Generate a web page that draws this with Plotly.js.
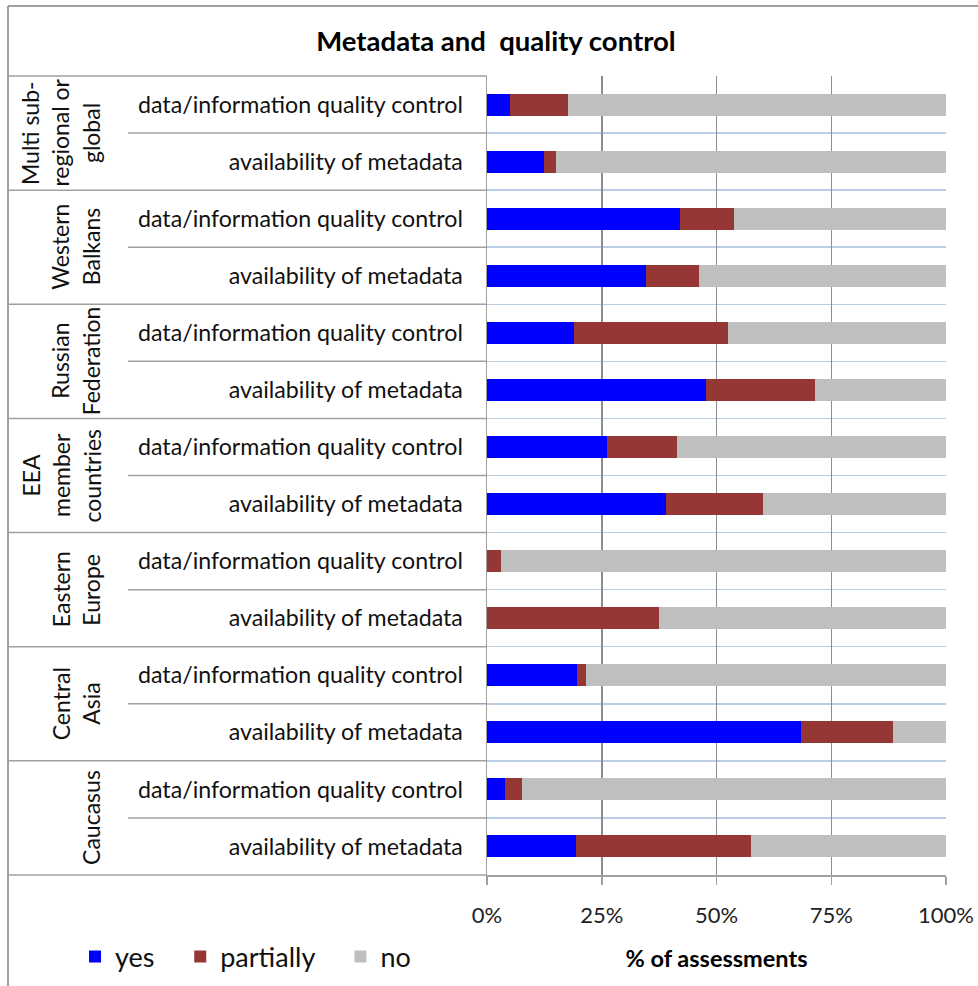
<!DOCTYPE html>
<html>
<head>
<meta charset="utf-8">
<script src="https://cdn.plot.ly/plotly-3.0.1.min.js"></script>
<style>html,body{margin:0;padding:0;background:#fff}#chart{width:978px;height:986px}</style>
</head>
<body>
<div id="chart"></div>
<script>
// ---- data ----
const groups = [
  ["Multi sub-", "regional or", "global"],
  ["Western", "Balkans"],
  ["Russian", "Federation"],
  ["EEA", "member", "countries"],
  ["Eastern", "Europe"],
  ["Central", "Asia"],
  ["Caucasus"]
];
const items = [
  "data/information quality control", "availability of metadata",
  "data/information quality control", "availability of metadata",
  "data/information quality control", "availability of metadata",
  "data/information quality control", "availability of metadata",
  "data/information quality control", "availability of metadata",
  "data/information quality control", "availability of metadata",
  "data/information quality control", "availability of metadata"
];
const seriesNames = ["yes", "partially", "no"];
const yes       = [5.0, 12.4, 42.1, 34.6, 18.9, 47.7, 26.1, 39.1, 0.0, 0.0, 19.5, 68.5, 3.9, 19.3];
const partially = [12.6, 2.7, 11.7, 11.6, 33.5, 23.8, 15.3, 21.1, 3.1, 37.4, 2.1, 19.9, 3.8, 38.3];
const no        = [82.4, 84.9, 46.2, 53.8, 47.6, 28.5, 58.6, 39.8, 96.9, 62.6, 78.4, 11.6, 92.3, 42.4];
const xTicks = [0, 25, 50, 75, 100];
const xTickText = ["0%", "25%", "50%", "75%", "100%"];

// ---- geometry helpers (layout only) ----
const W = 978, H = 986, L = 487, R = 32, T = 76, B = 111;
const PW = W - L - R, PH = H - T - B;
const px2x = p => (p - L) / PW;
const py2y = p => (H - B - p) / PH;
const n = items.length;
const pos = items.map((_, i) => i);

const font = "Lato, 'Open Sans', sans-serif";
const lineCol = "#a0a0a0";
const pad = "\u00a0\u00a0\u00a0";

const traces = [
  {name: seriesNames[0], x: yes, color: "#0000ff"},
  {name: seriesNames[1], x: partially, color: "#953735"},
  {name: seriesNames[2], x: no, color: "#bfbfbf"}
].map(s => ({
  type: "bar", orientation: "h", name: s.name + pad, x: s.x, y: pos,
  marker: {color: s.color, line: {width: 0}}, hoverinfo: "x+name"
}));

const shapes = [];
// outer frame
shapes.push({type: "line", xref: "paper", yref: "paper", x0: px2x(8), x1: px2x(978), y0: py2y(6), y1: py2y(6), line: {color: lineCol, width: 2}});
shapes.push({type: "line", xref: "paper", yref: "paper", x0: px2x(8), x1: px2x(8), y0: py2y(6), y1: py2y(986), line: {color: lineCol, width: 2}});
// table lines
for (let k = 0; k <= n; k++) {
  const yP = 1 - k / n;
  const x0 = (k % 2 === 0) ? px2x(8) : px2x(128);
  shapes.push({type: "line", xref: "paper", yref: "paper", x0: x0, x1: 0, y0: yP, y1: yP, line: {color: lineCol, width: 1.5}});
}

const annotations = [];
groups.forEach((lines, g) => {
  const m = lines.length;
  lines.forEach((t, j) => {
    const cx = 91 - (m - 1 - j) * 30.5;
    annotations.push({
      xref: "paper", yref: "y", x: px2x(cx), y: 2 * g + 0.5,
      text: t, textangle: -90, showarrow: false,
      xanchor: "center", yanchor: "middle",
      font: {family: font, size: 23, color: "#111"}
    });
  });
});

const layout = {
  width: W, height: H, autosize: false,
  margin: {l: L, r: R, t: T, b: B, pad: 0, autoexpand: false},
  paper_bgcolor: "#fff", plot_bgcolor: "#fff",
  barmode: "stack", bargap: 0.615,
  title: {text: "<b>Metadata and\u00a0 quality control</b>", x: 496 / W, xanchor: "center", y: 1 - 41 / H, yanchor: "middle",
          font: {family: font, size: 27.5, color: "#000"}},
  xaxis: {
    range: [0, 100], tickmode: "array", tickvals: xTicks, ticktext: xTickText,
    showgrid: true, gridcolor: "#8c8c8c", gridwidth: 1.5, zeroline: false,
    showline: true, linecolor: lineCol, linewidth: 1.5,
    ticks: "outside", ticklen: 8, tickcolor: lineCol, tickwidth: 1.5,
    ticklabelstandoff: 12,
    tickfont: {family: font, size: 22, color: "#222"},
    title: {text: "<b>% of assessments</b>", font: {family: font, size: 23.5, color: "#000"}, standoff: 23},
    automargin: false,
    fixedrange: true
  },
  yaxis: {
    range: [n - 0.5, -0.5], tickmode: "array", tickvals: pos, ticktext: items,
    showgrid: false, zeroline: false, ticks: "",
    showline: true, linecolor: lineCol, linewidth: 1.5,
    ticklabelstandoff: 18,
    tickfont: {family: font, size: 23.2, color: "#111"},
    minor: {tickmode: "array", tickvals: Array.from({length: n + 1}, (_, k) => k - 0.5),
            showgrid: true, gridcolor: "#b9cde5", gridwidth: 1.5, ticks: "", ticklen: 0},
    automargin: false,
    fixedrange: true
  },
  legend: {orientation: "h", traceorder: "normal", x: px2x(75), xanchor: "left", y: py2y(957), yanchor: "middle",
           font: {family: font, size: 27, color: "#111"}, bgcolor: "rgba(0,0,0,0)"},
  shapes: shapes,
  annotations: annotations
};

Plotly.newPlot("chart", traces, layout, {displayModeBar: false, staticPlot: true});
</script>
</body>
</html>
